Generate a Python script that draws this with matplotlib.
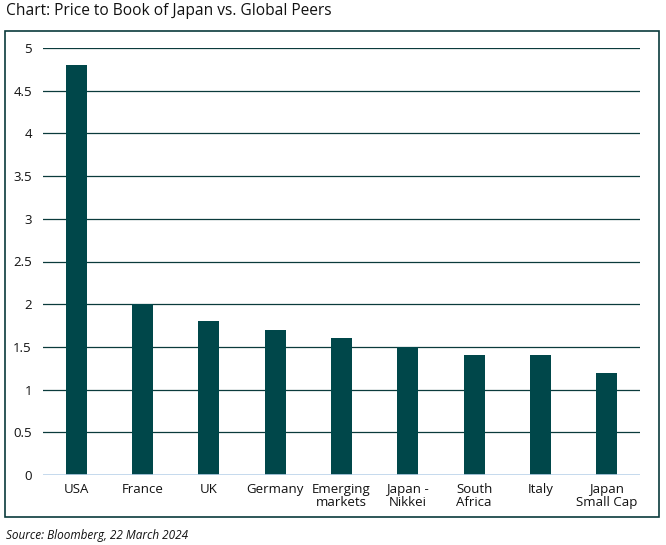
import matplotlib
matplotlib.use("Agg")
import matplotlib.pyplot as plt
from matplotlib.patches import Rectangle

categories = ["USA", "France", "UK", "Germany", "Emerging\nmarkets", "Japan -\nNikkei",
              "South\nAfrica", "Italy", "Japan\nSmall Cap"]
values = [4.8, 2.0, 1.8, 1.7, 1.6, 1.5, 1.4, 1.4, 1.2]
yticks = [0, 0.5, 1, 1.5, 2, 2.5, 3, 3.5, 4, 4.5, 5]
ytick_labels = ["0", "0.5", "1", "1.5", "2", "2.5", "3", "3.5", "4", "4.5", "5"]

plt.rcParams['font.family'] = ['Open Sans', 'DejaVu Sans']
teal = "#00474A"

fig = plt.figure(figsize=(6.66, 5.45), dpi=100)
ax = fig.add_axes([43/666, 1-475/545, (640-43)/666, (475-48)/545])

x = list(range(len(categories)))
ax.bar(x, values, width=0.32, color=teal, zorder=3)
ax.set_xlim(-0.5, len(categories)-0.5)
ax.set_ylim(0, 5)
ax.set_yticks(yticks)
ax.set_yticklabels(ytick_labels, fontsize=9.5, color="#111111")
ax.set_xticks(x)
ax.set_xticklabels(categories, fontsize=9.5, color="#111111", linespacing=1.0)
ax.tick_params(axis='both', length=0)
ax.tick_params(axis='y', pad=8)
ax.tick_params(axis='x', pad=6)
for t in yticks[1:]:
    ax.axhline(t, color="#0B3B3C", linewidth=0.9, zorder=1)
ax.axhline(0, color="#BBD3EA", linewidth=1.2, zorder=4)
for s in ax.spines.values():
    s.set_visible(False)

fig.patches.append(Rectangle((5/666, 1-517/545), (659-5)/666, (517-31)/545,
                             transform=fig.transFigure, fill=False,
                             edgecolor="#0B3B3C", linewidth=1.2))
fig.text(6/666, 1-11/545, "Chart: Price to Book of Japan vs. Global Peers",
         fontsize=11.2, color="#111111", va="center", ha="left")
fig.text(6/666, 1-536/545, "Source: Bloomberg, 22 March 2024",
         fontsize=8.5, style="italic", color="#111111", va="center", ha="left")

fig.savefig("out.png", dpi=100)
